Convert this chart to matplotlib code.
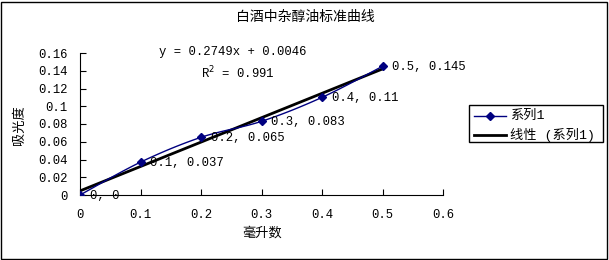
import numpy as np
import matplotlib
matplotlib.use("Agg")
import matplotlib.pyplot as plt
from matplotlib.lines import Line2D
from matplotlib.patches import Rectangle

plt.rcParams['font.family'] = ['Liberation Mono', 'Noto Sans CJK SC']

title = "白酒中杂醇油标准曲线"
xlabel = "毫升数"
ylabel = "吸光度"
x_vals = [0, 0.1, 0.2, 0.3, 0.4, 0.5]
y_vals = [0, 0.037, 0.065, 0.083, 0.11, 0.145]
x_ticks = [0, 0.1, 0.2, 0.3, 0.4, 0.5, 0.6]
x_tick_labels = ["0", "0.1", "0.2", "0.3", "0.4", "0.5", "0.6"]
y_ticks = [0, 0.02, 0.04, 0.06, 0.08, 0.1, 0.12, 0.14, 0.16]
y_tick_labels = ["0", "0.02", "0.04", "0.06", "0.08", "0.1", "0.12", "0.14", "0.16"]
series_name = "系列1"
trend_name = "线性 (系列1)"
eq_text = "y = 0.2749x + 0.0046"
r2_text = "R$^2$ = 0.991"

navy = "#000080"
fs = 8.8

fig = plt.figure(figsize=(6.09, 2.6), dpi=100)
ax = fig.add_axes([80/609, 65/260, 363/609, 142/260])

# smooth (Catmull-Rom) series line, like Excel's smoothed line
xs = np.array(x_vals, float)
ys = np.array(y_vals, float)
P = np.column_stack([xs, ys])
Pp = np.vstack([P[0], P, P[-1]])
curve = []
t = np.linspace(0, 1, 20)
for i in range(1, len(Pp) - 2):
    p0, p1, p2, p3 = Pp[i-1], Pp[i], Pp[i+1], Pp[i+2]
    c1 = p1 + (p2 - p0) / 6
    c2 = p2 - (p3 - p1) / 6
    seg = ((1-t)**3)[:, None]*p1 + (3*(1-t)**2*t)[:, None]*c1 + (3*(1-t)*t**2)[:, None]*c2 + (t**3)[:, None]*p2
    curve.append(seg)
curve = np.vstack(curve)
ax.plot(curve[:, 0], curve[:, 1], color=navy, lw=1.0, zorder=3)
ax.plot(xs, ys, linestyle='none', marker='D', color=navy, markersize=4.5, zorder=4)

# linear trendline
k, b = np.polyfit(xs, ys, 1)
tx = np.array([xs.min(), xs.max()])
ax.plot(tx, k*tx + b, color='black', lw=2.0, zorder=2)

for xv, yv in zip(x_vals, y_vals):
    ax.annotate(f"{xv:g}, {yv:g}", (xv, yv), xytext=(7, -0.5), textcoords='offset points',
                va='center', ha='left', fontsize=fs)

ax.set_xlim(0, 0.6)
ax.set_ylim(0, 0.16)
ax.set_xticks(x_ticks)
ax.set_xticklabels(x_tick_labels)
ax.set_yticks(y_ticks)
ax.set_yticklabels(y_tick_labels)
ax.tick_params(direction='in', length=4, labelsize=fs, width=0.8)
ax.tick_params(axis='x', pad=10)
ax.tick_params(axis='y', pad=9)
ax.spines['top'].set_visible(False)
ax.spines['right'].set_visible(False)
ax.set_facecolor('none')

fig.text(305/609, 1 - 17/260, title, ha='center', va='center', fontsize=10)
fig.text(262/609, 1 - 233/260, xlabel, ha='center', va='center', fontsize=9.5)
fig.text(20/609, 1 - 125/260, ylabel, ha='center', va='center', fontsize=9.5, rotation=90)
fig.text(233/609, 1 - 52/260, eq_text, ha='center', va='center', fontsize=fs)
fig.text(238/609, 1 - 73/260, r2_text, ha='center', va='center', fontsize=fs)

# legend
fig.patches.append(Rectangle((469/609, 1 - 142/260), 134/609, 37/260, transform=fig.transFigure,
                             fill=False, edgecolor='black', lw=1.0))
fig.lines.append(Line2D([474/609, 506/609], [1 - 116/260]*2, transform=fig.transFigure,
                        color=navy, lw=1.0))
fig.lines.append(Line2D([490/609], [1 - 116/260], transform=fig.transFigure,
                        color=navy, marker='D', markersize=4.5, linestyle='none'))
fig.lines.append(Line2D([474/609, 506/609], [1 - 135/260]*2, transform=fig.transFigure,
                        color='black', lw=2.0))
fig.text(510/609, 1 - 116/260, series_name, ha='left', va='center', fontsize=9.5)
fig.text(510/609, 1 - 135/260, trend_name, ha='left', va='center', fontsize=9.5)

# outer border
fig.patches.append(Rectangle((1/609, 1.5/260), 606/609, 257/260, transform=fig.transFigure,
                             fill=False, edgecolor='black', lw=1.0))

fig.savefig("out.png", dpi=100)
